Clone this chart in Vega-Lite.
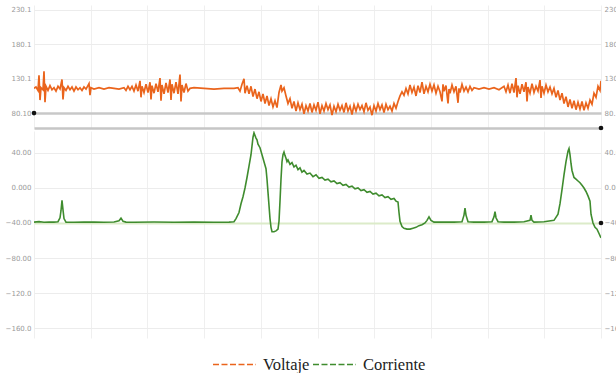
{
  "$schema": "https://vega.github.io/schema/vega-lite/v6.json",
  "padding": {"top": 5, "left": 5, "right": 0, "bottom": 0},
  "background": "white",
  "spacing": 0,
  "config": {
    "view": {"stroke": null},
    "axis": {"labelFont": "DejaVu Sans", "labelFontSize": 7, "labelColor": "#9a9a9a", "ticks": false, "domain": false, "gridColor": "#ececec", "title": null}
  },
  "resolve": {"scale": {"color": "shared"}, "legend": {"color": "shared"}},
  "datasets": {
    "voltaje": [
      {"t":0,"v":116},{"t":2,"v":118},{"t":4,"v":113},{"t":5,"v":135},{"t":6,"v":99},{"t":7,"v":117},{"t":9,"v":114},{"t":10,"v":141},{"t":11,"v":96},{"t":12,"v":119},{"t":14,"v":113},{"t":16,"v":120},{"t":18,"v":114},{"t":20,"v":117},{"t":22,"v":112},{"t":24,"v":119},{"t":26,"v":115},{"t":28,"v":129},{"t":29,"v":100},{"t":30,"v":117},{"t":32,"v":113},{"t":34,"v":119},{"t":36,"v":114},{"t":38,"v":118},{"t":40,"v":112},{"t":42,"v":118},{"t":44,"v":114},{"t":46,"v":117},{"t":48,"v":113},{"t":50,"v":118},{"t":52,"v":115},{"t":55,"v":123},{"t":56,"v":106},{"t":57,"v":117},{"t":60,"v":115},{"t":65,"v":117},{"t":70,"v":115},{"t":75,"v":117},{"t":80,"v":116},{"t":85,"v":115},{"t":90,"v":117},{"t":92,"v":113},{"t":94,"v":119},{"t":96,"v":114},{"t":98,"v":119},{"t":100,"v":112},{"t":102,"v":121},{"t":104,"v":112},{"t":106,"v":127},{"t":107,"v":103},{"t":108,"v":119},{"t":110,"v":110},{"t":112,"v":122},{"t":114,"v":110},{"t":116,"v":125},{"t":117,"v":100},{"t":118,"v":120},{"t":120,"v":109},{"t":122,"v":123},{"t":124,"v":111},{"t":126,"v":131},{"t":127,"v":98},{"t":128,"v":121},{"t":130,"v":108},{"t":132,"v":124},{"t":134,"v":110},{"t":136,"v":129},{"t":137,"v":99},{"t":138,"v":122},{"t":140,"v":109},{"t":142,"v":125},{"t":144,"v":108},{"t":146,"v":136},{"t":147,"v":97},{"t":148,"v":121},{"t":150,"v":110},{"t":152,"v":123},{"t":154,"v":112},{"t":156,"v":116},{"t":160,"v":117},{"t":170,"v":116},{"t":180,"v":115},{"t":190,"v":116},{"t":200,"v":116},{"t":204,"v":117},{"t":206,"v":112},{"t":208,"v":122},{"t":210,"v":130},{"t":211,"v":109},{"t":213,"v":120},{"t":215,"v":108},{"t":217,"v":119},{"t":219,"v":104},{"t":221,"v":115},{"t":223,"v":101},{"t":225,"v":111},{"t":227,"v":97},{"t":229,"v":108},{"t":231,"v":94},{"t":233,"v":105},{"t":235,"v":91},{"t":237,"v":101},{"t":239,"v":89},{"t":241,"v":98},{"t":243,"v":88},{"t":245,"v":110},{"t":247,"v":121},{"t":248,"v":112},{"t":250,"v":117},{"t":252,"v":105},{"t":254,"v":94},{"t":256,"v":101},{"t":258,"v":87},{"t":260,"v":97},{"t":262,"v":83},{"t":264,"v":95},{"t":266,"v":85},{"t":268,"v":93},{"t":270,"v":79},{"t":272,"v":91},{"t":274,"v":83},{"t":276,"v":94},{"t":278,"v":81},{"t":280,"v":92},{"t":282,"v":84},{"t":284,"v":96},{"t":286,"v":79},{"t":288,"v":91},{"t":290,"v":83},{"t":292,"v":94},{"t":294,"v":85},{"t":296,"v":92},{"t":298,"v":77},{"t":300,"v":90},{"t":302,"v":82},{"t":304,"v":93},{"t":306,"v":84},{"t":308,"v":91},{"t":310,"v":81},{"t":312,"v":95},{"t":314,"v":83},{"t":316,"v":90},{"t":318,"v":78},{"t":320,"v":92},{"t":322,"v":83},{"t":324,"v":93},{"t":326,"v":85},{"t":328,"v":91},{"t":330,"v":82},{"t":332,"v":95},{"t":334,"v":84},{"t":336,"v":89},{"t":338,"v":77},{"t":340,"v":91},{"t":342,"v":83},{"t":344,"v":94},{"t":346,"v":85},{"t":348,"v":92},{"t":350,"v":81},{"t":352,"v":93},{"t":354,"v":85},{"t":356,"v":90},{"t":358,"v":83},{"t":360,"v":94},{"t":362,"v":87},{"t":364,"v":97},{"t":366,"v":105},{"t":368,"v":111},{"t":370,"v":106},{"t":372,"v":116},{"t":374,"v":108},{"t":376,"v":121},{"t":378,"v":110},{"t":380,"v":118},{"t":382,"v":105},{"t":384,"v":120},{"t":386,"v":110},{"t":388,"v":125},{"t":390,"v":108},{"t":392,"v":119},{"t":394,"v":111},{"t":396,"v":122},{"t":398,"v":112},{"t":400,"v":121},{"t":402,"v":109},{"t":404,"v":119},{"t":406,"v":111},{"t":408,"v":97},{"t":409,"v":122},{"t":410,"v":112},{"t":412,"v":120},{"t":414,"v":94},{"t":415,"v":115},{"t":416,"v":109},{"t":418,"v":121},{"t":420,"v":111},{"t":422,"v":119},{"t":424,"v":95},{"t":425,"v":116},{"t":426,"v":110},{"t":428,"v":122},{"t":430,"v":112},{"t":432,"v":118},{"t":434,"v":111},{"t":436,"v":119},{"t":438,"v":113},{"t":440,"v":117},{"t":445,"v":115},{"t":450,"v":117},{"t":455,"v":115},{"t":460,"v":117},{"t":465,"v":114},{"t":470,"v":119},{"t":472,"v":111},{"t":474,"v":121},{"t":476,"v":109},{"t":478,"v":123},{"t":480,"v":110},{"t":482,"v":131},{"t":483,"v":103},{"t":484,"v":120},{"t":486,"v":108},{"t":488,"v":122},{"t":490,"v":111},{"t":492,"v":125},{"t":493,"v":97},{"t":494,"v":118},{"t":496,"v":109},{"t":498,"v":123},{"t":500,"v":110},{"t":502,"v":119},{"t":504,"v":112},{"t":506,"v":128},{"t":507,"v":102},{"t":508,"v":119},{"t":510,"v":109},{"t":512,"v":121},{"t":514,"v":111},{"t":516,"v":118},{"t":518,"v":108},{"t":520,"v":116},{"t":522,"v":103},{"t":524,"v":113},{"t":526,"v":99},{"t":528,"v":109},{"t":530,"v":94},{"t":532,"v":104},{"t":534,"v":89},{"t":536,"v":100},{"t":538,"v":87},{"t":540,"v":98},{"t":542,"v":85},{"t":544,"v":96},{"t":546,"v":86},{"t":548,"v":97},{"t":550,"v":84},{"t":552,"v":95},{"t":554,"v":87},{"t":556,"v":99},{"t":558,"v":93},{"t":560,"v":109},{"t":562,"v":103},{"t":564,"v":119},{"t":566,"v":113},{"t":567,"v":127}
    ],
    "corriente": [
      {"t":0,"i":-39},{"t":5,"i":-38.5},{"t":10,"i":-39.2},{"t":15,"i":-38.8},{"t":20,"i":-39},{"t":24,"i":-38.5},{"t":26,"i":-34},{"t":27,"i":-26},{"t":28,"i":-14},{"t":29,"i":-25},{"t":30,"i":-35},{"t":32,"i":-39},{"t":40,"i":-39.2},{"t":50,"i":-38.8},{"t":60,"i":-39},{"t":70,"i":-39.1},{"t":80,"i":-38.9},{"t":85,"i":-37.5},{"t":87,"i":-34.5},{"t":89,"i":-38},{"t":92,"i":-39},{"t":100,"i":-39.2},{"t":120,"i":-38.9},{"t":140,"i":-39.1},{"t":160,"i":-39},{"t":180,"i":-39.2},{"t":195,"i":-39},{"t":200,"i":-38.5},{"t":202,"i":-35},{"t":205,"i":-28},{"t":207,"i":-18},{"t":209,"i":-10},{"t":211,"i":0},{"t":213,"i":12},{"t":215,"i":25},{"t":217,"i":38},{"t":218,"i":48},{"t":219,"i":58},{"t":220,"i":63},{"t":221,"i":60},{"t":222,"i":57},{"t":223,"i":55},{"t":224,"i":50},{"t":226,"i":46},{"t":228,"i":38},{"t":230,"i":30},{"t":232,"i":22},{"t":233,"i":10},{"t":234,"i":-5},{"t":235,"i":-20},{"t":236,"i":-35},{"t":237,"i":-45},{"t":238,"i":-50},{"t":240,"i":-50},{"t":242,"i":-49},{"t":244,"i":-47},{"t":245,"i":-38},{"t":246,"i":-15},{"t":247,"i":10},{"t":248,"i":30},{"t":249,"i":38},{"t":250,"i":41},{"t":251,"i":37},{"t":252,"i":34},{"t":253,"i":30},{"t":254,"i":32},{"t":256,"i":27},{"t":258,"i":29},{"t":260,"i":24},{"t":262,"i":26},{"t":264,"i":21},{"t":266,"i":23},{"t":268,"i":18},{"t":270,"i":20},{"t":273,"i":16},{"t":276,"i":17},{"t":279,"i":13},{"t":282,"i":15},{"t":285,"i":11},{"t":288,"i":12},{"t":291,"i":9},{"t":294,"i":10},{"t":297,"i":7},{"t":300,"i":8},{"t":303,"i":5},{"t":306,"i":6},{"t":309,"i":3},{"t":312,"i":4},{"t":315,"i":1},{"t":318,"i":2},{"t":321,"i":-1},{"t":324,"i":0},{"t":327,"i":-3},{"t":330,"i":-2},{"t":333,"i":-5},{"t":336,"i":-4},{"t":339,"i":-7},{"t":342,"i":-6},{"t":345,"i":-9},{"t":348,"i":-8},{"t":351,"i":-11},{"t":354,"i":-10},{"t":357,"i":-13},{"t":360,"i":-12},{"t":362,"i":-15},{"t":364,"i":-16},{"t":365,"i":-28},{"t":366,"i":-38},{"t":368,"i":-44},{"t":370,"i":-46},{"t":373,"i":-47},{"t":376,"i":-47},{"t":379,"i":-46},{"t":382,"i":-45},{"t":385,"i":-43},{"t":388,"i":-42},{"t":391,"i":-40},{"t":393,"i":-37},{"t":395,"i":-33},{"t":397,"i":-37},{"t":400,"i":-39},{"t":410,"i":-39},{"t":420,"i":-39},{"t":428,"i":-38.5},{"t":430,"i":-31},{"t":431,"i":-23},{"t":432,"i":-31},{"t":434,"i":-38.5},{"t":440,"i":-39},{"t":450,"i":-39},{"t":458,"i":-38.5},{"t":460,"i":-33},{"t":461,"i":-27},{"t":462,"i":-34},{"t":464,"i":-38.5},{"t":470,"i":-39},{"t":480,"i":-39},{"t":490,"i":-38.5},{"t":496,"i":-37},{"t":497,"i":-31},{"t":498,"i":-37},{"t":500,"i":-39},{"t":510,"i":-38.5},{"t":520,"i":-37},{"t":524,"i":-30},{"t":526,"i":-18},{"t":528,"i":-2},{"t":530,"i":15},{"t":532,"i":30},{"t":534,"i":42},{"t":535,"i":45},{"t":536,"i":38},{"t":537,"i":28},{"t":538,"i":20},{"t":540,"i":12},{"t":542,"i":10},{"t":544,"i":8},{"t":546,"i":6},{"t":548,"i":3},{"t":550,"i":0},{"t":552,"i":-4},{"t":554,"i":-9},{"t":556,"i":-15},{"t":557,"i":-30},{"t":559,"i":-40},{"t":561,"i":-45},{"t":563,"i":-47},{"t":565,"i":-52},{"t":567,"i":-57}
    ],
    "marcas_v": [{"t":0,"v":80.1},{"t":567,"v":58.35}],
    "marcas_i": [{"t":567,"i":-40}]
  },
  "vconcat": [
    {
      "width": 567,
      "height": 123,
      "resolve": {"axis": {"y": "independent"}},
      "layer": [
        {
          "data": {"name": "voltaje"},
          "mark": {"type": "line", "strokeWidth": 1.7, "clip": true},
          "encoding": {
            "x": {"field": "t", "type": "quantitative", "scale": {"domain": [0, 567], "nice": false, "zero": false},
              "axis": {"values": [0,56.7,113.4,170.1,226.8,283.5,340.2,396.9,453.6,510.3,567], "labels": false, "grid": true, "gridColor": "#efefef", "domain": true, "domainColor": "#c6c6c6", "domainWidth": 2.5, "orient": "bottom"}},
            "y": {"field": "v", "type": "quantitative", "scale": {"domain": [58.35, 237.35], "nice": false, "zero": false},
              "axis": {"values": [80.1,130.1,180.1,230.1], "format": ".4g", "orient": "left", "labelPadding": 3,
                "gridColor": {"condition": {"test": "datum.value === 80.1", "value": "#c8c8c8"}, "value": "#ececec"},
                "gridWidth": {"condition": {"test": "datum.value === 80.1", "value": 2.5}, "value": 1}}},
            "color": {"datum": "Voltaje", "type": "nominal",
              "scale": {"domain": ["Voltaje", "Corriente"], "range": ["#ea641c", "#3f8c2e"]},
              "legend": {"orient": "none", "legendX": 178, "legendY": 337, "direction": "horizontal", "title": null,
                "symbolType": "stroke", "symbolSize": 1849, "symbolStrokeWidth": 1.5, "symbolDash": [6, 2.5],
                "labelFont": "Liberation Serif", "labelFontSize": 16.5, "labelColor": "#222222", "labelOffset": 6,
                "columnPadding": 0, "padding": 0, "labelLimit": 200}}
          }
        },
        {
          "data": {"name": "marcas_v"},
          "mark": {"type": "point", "filled": true, "color": "#111111", "size": 22, "opacity": 1},
          "encoding": {
            "x": {"field": "t", "type": "quantitative"},
            "y": {"field": "v", "type": "quantitative",
              "axis": {"values": [80.1,130.1,180.1,230.1], "format": ".4g", "orient": "right", "labelPadding": 3, "grid": false}}
          }
        }
      ]
    },
    {
      "width": 567,
      "height": 207,
      "resolve": {"axis": {"y": "independent"}},
      "layer": [
        {
          "data": {"name": "corriente"},
          "mark": {"type": "line", "strokeWidth": 1.6, "clip": true},
          "encoding": {
            "x": {"field": "t", "type": "quantitative", "scale": {"domain": [0, 567], "nice": false, "zero": false},
              "axis": {"values": [0,56.7,113.4,170.1,226.8,283.5,340.2,396.9,453.6,510.3,567], "labels": false, "grid": true, "gridColor": "#efefef", "domain": false}},
            "y": {"field": "i", "type": "quantitative", "scale": {"domain": [-171.4, 65.1], "nice": false, "zero": false},
              "axis": {"values": [40,0,-40,-80,-120,-160], "format": ".4g", "orient": "left", "labelPadding": 3,
                "gridColor": {"condition": {"test": "datum.value === -40", "value": "#dcebc9"}, "value": "#ececec"},
                "gridWidth": {"condition": {"test": "datum.value === -40", "value": 2}, "value": 1}}},
            "color": {"datum": "Corriente", "type": "nominal", "scale": {"domain": ["Voltaje", "Corriente"], "range": ["#ea641c", "#3f8c2e"]},
              "legend": {"orient": "none", "legendX": 178, "legendY": 337, "direction": "horizontal", "title": null,
                "symbolType": "stroke", "symbolSize": 1849, "symbolStrokeWidth": 1.5, "symbolDash": [6, 2.5],
                "labelFont": "Liberation Serif", "labelFontSize": 16.5, "labelColor": "#222222", "labelOffset": 6,
                "columnPadding": 0, "padding": 0, "labelLimit": 200}}
          }
        },
        {
          "data": {"name": "marcas_i"},
          "mark": {"type": "point", "filled": true, "color": "#111111", "size": 22, "opacity": 1},
          "encoding": {
            "x": {"field": "t", "type": "quantitative"},
            "y": {"field": "i", "type": "quantitative",
              "axis": {"values": [40,0,-40,-80,-120,-160], "format": ".4g", "orient": "right", "labelPadding": 3, "grid": false}}
          }
        }
      ]
    }
  ]
}
